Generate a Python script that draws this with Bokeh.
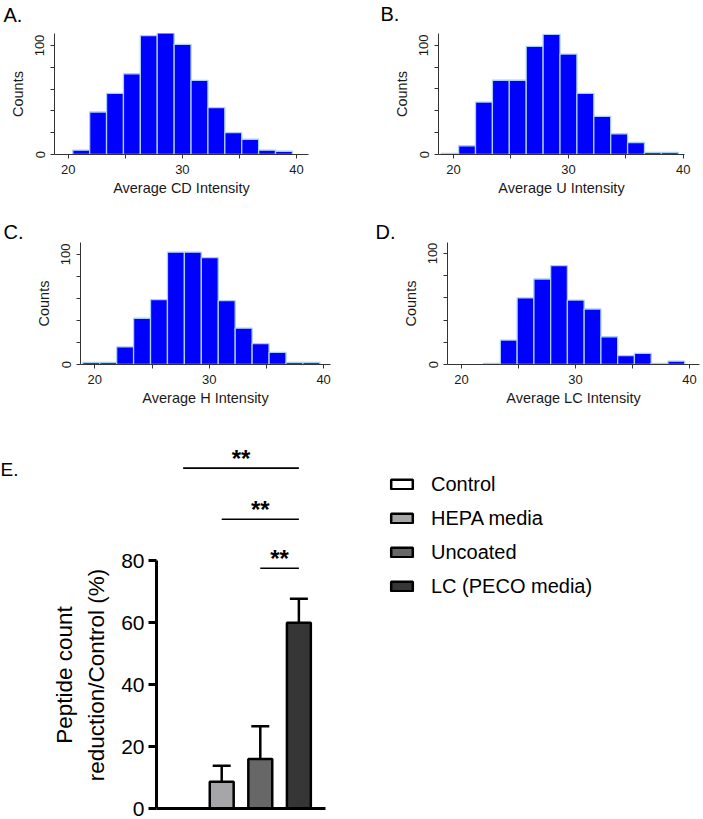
import math
from bokeh.plotting import figure
from bokeh.models import (Range1d, FixedTicker, Label, Whisker, TeeHead, Title,
                          ColumnDataSource, Legend, LegendItem)
from bokeh.layouts import column, row
from bokeh.embed import file_html
from bokeh.resources import INLINE
from bokeh.core.properties import value

FONT = "Liberation Sans"

# ---------------- data ----------------
# Histogram A (Average CD Intensity)
a_edges = [20.40, 21.88, 23.36, 24.84, 26.32, 27.80, 29.28, 30.76, 32.24, 33.72, 35.20, 36.68, 38.16, 39.64]
a_counts = [4, 39, 56, 74, 109, 112, 101, 68, 43, 20, 14, 4, 3]
# Histogram B (Average U Intensity)
b_edges = [18.98, 20.45, 21.92, 23.39, 24.86, 26.33, 27.80, 29.27, 30.74, 32.21, 33.68, 35.15, 36.62, 38.09, 39.56]
b_counts = [1, 8, 48, 68, 68, 99, 110, 92, 56, 35, 19, 11, 2, 2]
# Histogram C (Average H Intensity)
c_edges = [18.95, 20.43, 21.91, 23.39, 24.87, 26.35, 27.83, 29.31, 30.79, 32.27, 33.75, 35.23, 36.71, 38.19, 39.67]
c_counts = [2, 2, 16, 42, 59, 102, 102, 97, 58, 33, 19, 11, 2, 2]
# Histogram D (Average LC Intensity)
d_edges = [21.94, 23.41, 24.88, 26.35, 27.82, 29.29, 30.76, 32.23, 33.70, 35.17, 36.64, 38.11, 39.58]
d_counts = [1, 22, 60, 77, 89, 58, 50, 25, 8, 10, 1, 3]

hist_x_ticks = [20, 30, 40]
hist_x_minor = [25, 35]
hist_y_ticks = [0, 100]
hist_y_minor = [20, 40, 60, 80]

# Bar chart E
categories = ["Control", "HEPA media", "Uncoated", "LC (PECO media)"]
reduction = [0.0, 8.6, 16.0, 59.9]
reduction_sd = [0.0, 5.2, 10.5, 7.8]
bar_colors = ["#ffffff", "#a6a6a9", "#676767", "#363636"]
e_y_ticks = [0, 20, 40, 60, 80]
# significance brackets
sig_from = ["Control", "HEPA media", "Uncoated"]
sig_to = ["LC (PECO media)", "LC (PECO media)", "LC (PECO media)"]
sig_height = [109.8, 93.3, 77.5]
sig_text = ["**", "**", "**"]

HIST_FILL = "#0000ff"
HIST_LINE = "#a9cff2"
AX = "#333333"
TXT = "#1a1a1a"


def hist_panel(edges, counts, xr, ytop, w, h, borders, letter, letter_offset, xtitle, spacer):
    p = figure(width=w, height=h, x_range=Range1d(*xr), y_range=Range1d(0, ytop),
               output_backend="svg", toolbar_location=None,
               min_border_left=borders[0], min_border_right=borders[1],
               min_border_top=borders[2], min_border_bottom=borders[3])
    p.quad(left=edges[:-1], right=edges[1:], top=counts, bottom=0,
           fill_color=HIST_FILL, line_color=HIST_LINE, line_width=1.3)
    p.grid.visible = False
    p.outline_line_color = None
    for ax in (p.xaxis[0], p.yaxis[0]):
        ax.axis_line_color = AX
        ax.major_tick_line_color = AX
        ax.minor_tick_line_color = AX
        ax.major_tick_in = 0
        ax.major_tick_out = 4
        ax.minor_tick_in = 0
        ax.minor_tick_out = 4
        ax.major_label_text_font = FONT
        ax.major_label_text_font_size = "13px"
        ax.major_label_text_color = TXT
        ax.axis_label_text_font = FONT
        ax.axis_label_text_font_size = "14.5px"
        ax.axis_label_text_font_style = "normal"
        ax.axis_label_text_color = TXT
    p.xaxis.ticker = FixedTicker(ticks=hist_x_ticks, minor_ticks=hist_x_minor)
    p.yaxis.ticker = FixedTicker(ticks=hist_y_ticks, minor_ticks=hist_y_minor)
    p.xaxis.major_label_standoff = 6
    p.xaxis.axis_label_standoff = 3
    p.yaxis.major_label_standoff = 6
    p.yaxis.axis_label_standoff = 7
    p.yaxis.major_label_orientation = "vertical"
    p.xaxis.axis_label = xtitle
    p.yaxis.axis_label = "Counts"
    if spacer:
        # empty title that sits between the frame and the panel letter
        p.add_layout(Title(text=" ", text_font_size=spacer, standoff=0), "above")
    p.add_layout(Title(text=letter, align="left", offset=letter_offset, standoff=0,
                       text_font=FONT, text_font_size="20px", text_font_style="normal",
                       text_color="black"), "above")
    return p


pA = hist_panel(a_edges, a_counts, (18.8, 41.05), 111.0, 340, 205, (54, 32, 30, 51),
                "A.", -51, "Average CD Intensity", "5px")
pB = hist_panel(b_edges, b_counts, (18.7, 40.1), 110.8, 363, 205, (98, 19, 33, 49),
                "B.", -58, "Average U Intensity", "7px")
pC = hist_panel(c_edges, c_counts, (18.75, 40.6), 110.8, 340, 205, (80, 10, 37, 45),
                "C.", -77, "Average H Intensity", None)
pD = hist_panel(d_edges, d_counts, (18.77, 40.88), 109.9, 363, 205, (107, 4, 37, 46),
                "D.", -72, "Average LC Intensity", None)

# ---------------- panel E ----------------
xpos = list(range(len(categories)))
src = ColumnDataSource(dict(x=xpos, top=reduction, color=bar_colors, cat=categories))

E_LEFT, E_RIGHT = 106, 15
E_XR = (-0.69, 3.69)
BAR_H, SIG_H = 278, 131
BAR_BOTTOM = 11
PX_PER_UNIT = (BAR_H - BAR_BOTTOM - 19) / 80.0   # axis top (80) sits 19 px below the frame top
bar_ytop = (BAR_H - BAR_BOTTOM) / PX_PER_UNIT

pBars = figure(width=292, height=BAR_H, x_range=Range1d(*E_XR), y_range=Range1d(0, bar_ytop),
               output_backend="svg", toolbar_location=None,
               min_border_left=E_LEFT, min_border_right=E_RIGHT,
               min_border_top=0, min_border_bottom=BAR_BOTTOM)
pBars.grid.visible = False
pBars.outline_line_color = None

bars = pBars.vbar(x="x", top="top", bottom=0, width=0.62, fill_color="color",
                  line_color="black", line_width=2.5, source=src)

err_idx = [i for i in xpos if reduction_sd[i] > 0]
esrc = ColumnDataSource(dict(
    x=[xpos[i] for i in err_idx],
    lower=[reduction[i] for i in err_idx],
    upper=[reduction[i] + reduction_sd[i] for i in err_idx]))
pBars.add_layout(Whisker(base="x", lower="lower", upper="upper", source=esrc,
                         line_color="black", line_width=2.5, lower_head=None,
                         upper_head=TeeHead(size=18, line_color="black", line_width=2.5)))

xax = pBars.xaxis[0]
xax.ticker = FixedTicker(ticks=[])
xax.major_label_text_font_size = "0px"
xax.major_tick_out = 0
xax.major_tick_in = 0
xax.minor_tick_out = 0
xax.minor_tick_in = 0
xax.major_label_standoff = 0
xax.axis_line_width = 3
xax.axis_line_color = "black"

yax = pBars.yaxis[0]
yax.ticker = FixedTicker(ticks=e_y_ticks)
yax.bounds = (0, 80)
yax.axis_line_width = 3
yax.axis_line_color = "black"
yax.major_tick_line_width = 3
yax.major_tick_line_color = "black"
yax.major_tick_in = 0
yax.major_tick_out = 8
yax.minor_tick_out = 0
yax.major_label_standoff = 4
yax.major_label_text_font = FONT
yax.major_label_text_font_size = "21px"
yax.major_label_text_color = "black"
yax.axis_label = "Peptide count\nreduction/Control (%)"
yax.axis_label_text_font = FONT
yax.axis_label_text_font_size = "22.5px"
yax.axis_label_text_font_style = "normal"
yax.axis_label_text_color = "black"
yax.axis_label_text_line_height = 1.3
yax.axis_label_standoff = 9

pSig = figure(width=292, height=SIG_H, x_range=pBars.x_range,
              y_range=Range1d(bar_ytop, bar_ytop + SIG_H / PX_PER_UNIT),
              output_backend="svg", toolbar_location=None,
              x_axis_type=None, y_axis_type=None,
              min_border_left=E_LEFT, min_border_right=E_RIGHT,
              min_border_top=0, min_border_bottom=0)
pSig.grid.visible = False
pSig.outline_line_color = None

x0s = [categories.index(c) for c in sig_from]
x1s = [categories.index(c) for c in sig_to]
mids = [(a + b) / 2 for a, b in zip(x0s, x1s)]
for fig, keep in ((pSig, lambda h: h > bar_ytop), (pBars, lambda h: h <= bar_ytop)):
    idx = [i for i, h in enumerate(sig_height) if keep(h)]
    if not idx:
        continue
    fig.segment(x0=[x0s[i] for i in idx], y0=[sig_height[i] for i in idx],
                x1=[x1s[i] for i in idx], y1=[sig_height[i] for i in idx],
                line_color="black", line_width=1.6)
    fig.text(x=[mids[i] for i in idx], y=[sig_height[i] for i in idx],
             text=[sig_text[i] for i in idx],
             text_font=value(FONT), text_font_size="24px", text_font_style="bold",
             text_align="center", text_baseline="middle", y_offset=-10, text_color="black")

# letter "E."
pLetter = figure(width=48, height=SIG_H + BAR_H, x_range=Range1d(0, 1), y_range=Range1d(0, 1),
                 output_backend="svg", toolbar_location=None,
                 x_axis_type=None, y_axis_type=None, min_border=0)
pLetter.grid.visible = False
pLetter.outline_line_color = None
pLetter.add_layout(Label(x=0, y=361, x_units="screen", y_units="screen", text="E.",
                         text_font=FONT, text_font_size="19px", text_color="black",
                         text_baseline="top", text_align="left"))

# legend panel
pLeg = figure(width=363, height=SIG_H + BAR_H, x_range=Range1d(0, 1), y_range=Range1d(0, 1),
              output_backend="svg", toolbar_location=None,
              x_axis_type=None, y_axis_type=None, min_border=0)
pLeg.grid.visible = False
pLeg.outline_line_color = None
leg_bars = pLeg.vbar(x="x", top="top", bottom=0, width=0.62, fill_color="color",
                     line_color="black", line_width=2.5, source=src, visible=False)
legend = Legend(items=[LegendItem(label=c, renderers=[leg_bars], index=i) for i, c in enumerate(categories)],
                location=(48, 221), orientation="vertical",
                glyph_width=27, glyph_height=12, label_height=24, spacing=10,
                label_standoff=16, padding=0, margin=0,
                border_line_alpha=0, background_fill_alpha=0,
                inactive_fill_alpha=0,
                label_text_font=FONT, label_text_font_size="20px", label_text_color="black")
pLeg.add_layout(legend, "center")

layout = column(row(pA, pB), row(pC, pD),
                row(pLetter, column(pSig, pBars), pLeg))

with open("out.html", "w") as f:
    f.write(file_html(layout, INLINE))
